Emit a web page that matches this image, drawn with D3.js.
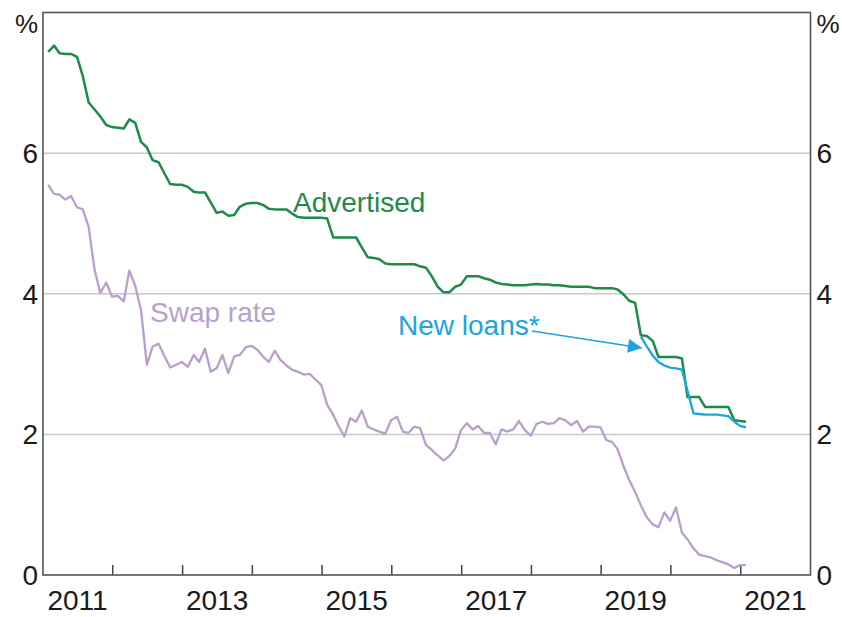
<!DOCTYPE html>
<html>
<head>
<meta charset="utf-8">
<script src="https://cdn.jsdelivr.net/npm/d3@7"></script>
<style>
  body { margin: 0; background: #fff; }
  svg text { font-family: "Liberation Sans", Arial, sans-serif; }
</style>
</head>
<body>
<svg id="chart" width="842" height="617"></svg>
<script>
// monthly observations, Jan 2011 .. Jan 2021
var firstMonth = new Date(2011, 0, 28);

var advertised = [
  7.44, 7.53, 7.42, 7.41, 7.41, 7.37, 7.10, 6.72, 6.62, 6.52, 6.40, 6.37,
  6.36, 6.35, 6.48, 6.43, 6.16, 6.08, 5.90, 5.87, 5.71, 5.56, 5.55, 5.55,
  5.52, 5.45, 5.44, 5.44, 5.30, 5.15, 5.17, 5.11, 5.12, 5.24, 5.28, 5.29,
  5.29, 5.26, 5.21, 5.20, 5.20, 5.20, 5.14, 5.09, 5.08, 5.08, 5.08, 5.08,
  5.07, 4.80, 4.80, 4.80, 4.80, 4.80, 4.66, 4.52, 4.51, 4.49, 4.43, 4.42,
  4.42, 4.42, 4.42, 4.42, 4.39, 4.37, 4.25, 4.10, 4.02, 4.02, 4.10, 4.13,
  4.25, 4.25, 4.25, 4.22, 4.20, 4.16, 4.14, 4.13, 4.12, 4.12, 4.12, 4.13,
  4.14, 4.13, 4.13, 4.12, 4.12, 4.11, 4.10, 4.10, 4.10, 4.10, 4.08, 4.08,
  4.08, 4.08, 4.06, 3.99, 3.90, 3.87, 3.41, 3.40, 3.33, 3.10, 3.10, 3.10,
  3.10, 3.08, 2.53, 2.53, 2.53, 2.39, 2.39, 2.39, 2.39, 2.39, 2.20, 2.19,
  2.18
];

var swapRate = [
  5.55, 5.42, 5.41, 5.34, 5.39, 5.23, 5.20, 4.95, 4.34, 4.01, 4.16, 3.96,
  3.97, 3.89, 4.33, 4.11, 3.77, 2.99, 3.25, 3.29, 3.11, 2.95, 2.99, 3.03,
  2.96, 3.13, 3.03, 3.22, 2.89, 2.94, 3.13, 2.87, 3.11, 3.13, 3.24, 3.26,
  3.20, 3.10, 3.03, 3.19, 3.06, 2.98, 2.92, 2.89, 2.85, 2.86, 2.78, 2.70,
  2.42, 2.28, 2.12, 1.97, 2.23, 2.18, 2.34, 2.11, 2.07, 2.04, 2.01, 2.20,
  2.25, 2.04, 2.02, 2.11, 2.09, 1.85, 1.78, 1.70, 1.63, 1.69, 1.80, 2.06,
  2.16, 2.07, 2.12, 2.02, 2.02, 1.86, 2.07, 2.04, 2.07, 2.19, 2.06, 1.98,
  2.15, 2.18, 2.15, 2.16, 2.23, 2.20, 2.13, 2.19, 2.04, 2.11, 2.11, 2.10,
  1.92, 1.89, 1.79, 1.55, 1.35, 1.18, 0.99, 0.82, 0.72, 0.68, 0.89, 0.77,
  0.96, 0.60, 0.51, 0.38, 0.29, 0.27, 0.25, 0.21, 0.18, 0.15, 0.10, 0.14,
  0.14
];

// new loans series starts Jul 2019 (month index 102)
var newLoansStart = 102;
var newLoans = [
  3.39, 3.25, 3.12, 3.03, 2.98, 2.95, 2.94, 2.92, 2.62, 2.30, 2.29, 2.28,
  2.28, 2.28, 2.27, 2.26, 2.18, 2.12, 2.10
];

var yTicks = [0, 2, 4, 6];
var gridTicks = [2, 4, 6];
var yearLabels = [2011, 2013, 2015, 2017, 2019, 2021];

var svg = d3.select("#chart");
var plotLeft = 43, plotRight = 810.5, plotTop = 12.5, plotBottom = 575;

var x = d3.scaleTime()
  .domain([new Date(2011, 0, 1), new Date(2022, 0, 1)])
  .range([plotLeft, plotRight]);
var y = d3.scaleLinear().domain([0, 8]).range([plotBottom, plotTop]);

function monthDate(i) { return d3.timeMonth.offset(firstMonth, i); }

// grid lines
svg.append("g").selectAll("line")
  .data(gridTicks)
  .enter().append("line")
  .attr("x1", plotLeft).attr("x2", plotRight)
  .attr("y1", d => y(d)).attr("y2", d => y(d))
  .attr("stroke", "#c8c8c8").attr("stroke-width", 1.5);

// year ticks (inside, pointing up)
var yearTicks = d3.timeYear.range(new Date(2012, 0, 1), new Date(2021, 6, 1));
svg.append("g").selectAll("line")
  .data(yearTicks)
  .enter().append("line")
  .attr("x1", d => x(d)).attr("x2", d => x(d))
  .attr("y1", plotBottom).attr("y2", plotBottom - 10)
  .attr("stroke", "#444").attr("stroke-width", 1.5);

// frame
svg.append("rect")
  .attr("x", plotLeft).attr("y", plotTop)
  .attr("width", plotRight - plotLeft).attr("height", plotBottom - plotTop)
  .attr("fill", "none").attr("stroke", "#555").attr("stroke-width", 1.6);

var line = d3.line()
  .x(d => x(d.date))
  .y(d => y(d.value));

function toPoints(arr, offset) {
  return arr.map((v, i) => ({ date: monthDate(i + offset), value: v }));
}

svg.append("path")
  .datum(toPoints(swapRate, 0))
  .attr("d", line)
  .attr("fill", "none").attr("stroke", "#b99fcc").attr("stroke-width", 2.3)
  .attr("stroke-linejoin", "round");

svg.append("path")
  .datum(toPoints(advertised, 0))
  .attr("d", line)
  .attr("fill", "none").attr("stroke", "#1e8a4c").attr("stroke-width", 2.5)
  .attr("stroke-linejoin", "round");

svg.append("path")
  .datum(toPoints(newLoans, newLoansStart))
  .attr("d", line)
  .attr("fill", "none").attr("stroke", "#1ca4e2").attr("stroke-width", 2.3)
  .attr("stroke-linejoin", "round");

// axis labels
var fs = 28;
svg.append("g").selectAll("text")
  .data(yTicks)
  .enter().append("text")
  .attr("x", plotLeft - 5).attr("y", d => y(d))
  .attr("dy", "0.36em")
  .attr("text-anchor", "end")
  .attr("font-size", fs).attr("fill", "#1a1a1a")
  .text(d => d);
svg.append("g").selectAll("text")
  .data(yTicks)
  .enter().append("text")
  .attr("x", plotRight + 6).attr("y", d => y(d))
  .attr("dy", "0.36em")
  .attr("font-size", fs).attr("fill", "#1a1a1a")
  .text(d => d);

svg.append("text").attr("x", plotLeft - 5).attr("y", 33)
  .attr("text-anchor", "end").attr("font-size", fs - 2).attr("fill", "#1a1a1a").text("%");
svg.append("text").attr("x", plotRight + 6).attr("y", 33)
  .attr("font-size", fs - 2).attr("fill", "#1a1a1a").text("%");

svg.append("g").selectAll("text")
  .data(yearLabels)
  .enter().append("text")
  .attr("x", d => x(new Date(d, 6, 1)))
  .attr("y", 610)
  .attr("text-anchor", "middle")
  .attr("font-size", fs).attr("fill", "#1a1a1a")
  .text(d => d);

// series labels
svg.append("text").attr("x", 293).attr("y", 212)
  .attr("font-size", fs).attr("fill", "#1e8a4c").text("Advertised");
svg.append("text").attr("x", 150).attr("y", 322)
  .attr("font-size", fs).attr("fill", "#b99fcc").text("Swap rate");
svg.append("text").attr("x", 398).attr("y", 335)
  .attr("font-size", fs).attr("fill", "#1ca4e2").text("New loans*");

// arrow to new loans line
svg.append("defs").append("marker")
  .attr("id", "head")
  .attr("viewBox", "0 0 10 10")
  .attr("refX", 10).attr("refY", 5)
  .attr("markerUnits", "userSpaceOnUse")
  .attr("markerWidth", 24).attr("markerHeight", 14)
  .attr("orient", "auto")
  .append("path").attr("d", "M0,0L10,5L0,10z").attr("fill", "#1ca4e2");

svg.append("line")
  .attr("x1", 532).attr("y1", 331)
  .attr("x2", 642).attr("y2", 348)
  .attr("stroke", "#1ca4e2").attr("stroke-width", 1.5)
  .attr("marker-end", "url(#head)");
</script>
</body>
</html>
